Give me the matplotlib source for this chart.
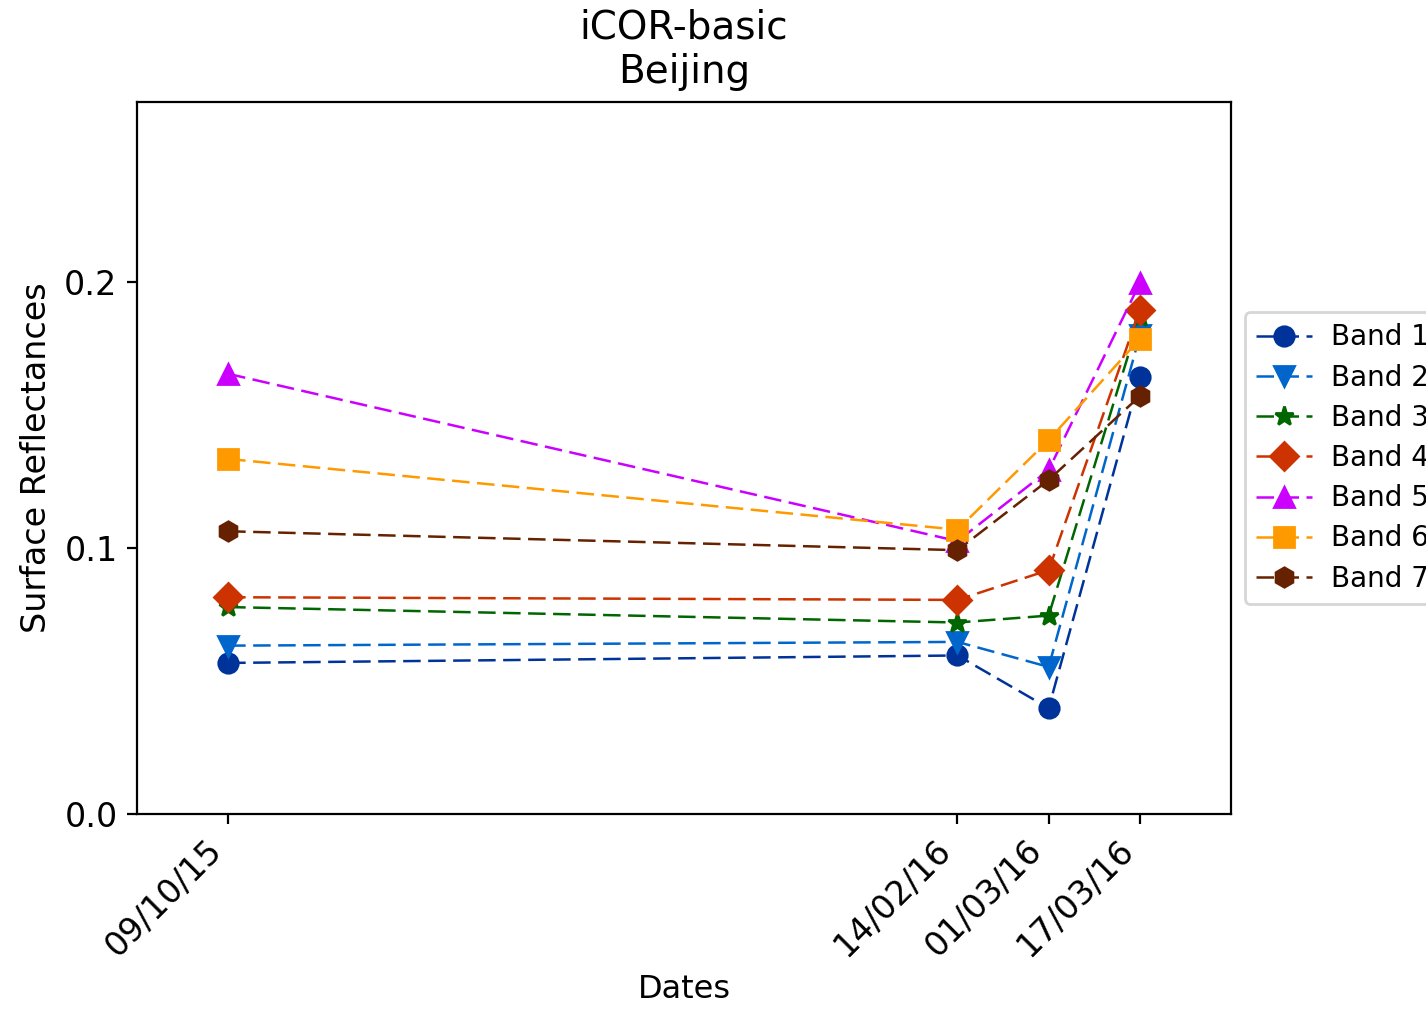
import datetime as dt
import matplotlib
matplotlib.use("Agg")
import matplotlib.pyplot as plt
import matplotlib.dates as mdates

# Acquisition dates (dd/mm/yy)
date_labels = ["09/10/15", "14/02/16", "01/03/16", "17/03/16"]

# Surface reflectance per band at each date
band1 = [0.0568, 0.0596, 0.0398, 0.1643]
band2 = [0.0633, 0.0647, 0.0553, 0.1800]
band3 = [0.0778, 0.0720, 0.0746, 0.1868]
band4 = [0.0815, 0.0805, 0.0917, 0.1895]
band5 = [0.1655, 0.1026, 0.1293, 0.1996]
band6 = [0.1335, 0.1069, 0.1406, 0.1786]
band7 = [0.1063, 0.0992, 0.1256, 0.1571]

band_names = ["Band 1", "Band 2", "Band 3", "Band 4", "Band 5", "Band 6", "Band 7"]

dates = [dt.datetime.strptime(d, "%d/%m/%y") for d in date_labels]
series = [band1, band2, band3, band4, band5, band6, band7]
colors = ["#003399", "#0066cc", "#006600", "#cc3300", "#cc00ff", "#ff9900", "#662200"]
markers = ["o", "v", "*", "D", "^", "s", "h"]

fig = plt.figure(figsize=(7.13, 5.045), dpi=200)
ax = fig.add_axes([137 / 1426, 1 - 814 / 1009, (1231 - 137) / 1426, (814 - 102) / 1009])

for vals, name, c, m in zip(series, band_names, colors, markers):
    ax.plot(dates, vals, color=c, marker=m, markersize=7, linewidth=0.9,
            linestyle=(0, (7, 3)), label=name)

pad = dt.timedelta(days=16)
ax.set_xlim(dates[0] - pad, dates[-1] + pad)
ax.set_ylim(0, 0.2677)
ax.set_yticks([0.0, 0.1, 0.2])
ax.set_xticks(dates)
ax.xaxis.set_major_formatter(mdates.DateFormatter("%d/%m/%y"))
ax.xaxis.set_minor_locator(matplotlib.ticker.NullLocator())
plt.setp(ax.get_xticklabels(), rotation=45, ha="right", fontsize=12)
ax.tick_params(axis="y", labelsize=12)

ax.set_xlabel("Dates", fontsize=11.5)
ax.set_ylabel("Surface Reflectances", fontsize=12)
ax.set_title("iCOR-basic\nBeijing", fontsize=14, pad=7)
ax.legend(loc="center left", bbox_to_anchor=(1, 0.5), fontsize=10,
          labelspacing=0.44, handletextpad=0.7)

fig.savefig("out.png", dpi=200)
